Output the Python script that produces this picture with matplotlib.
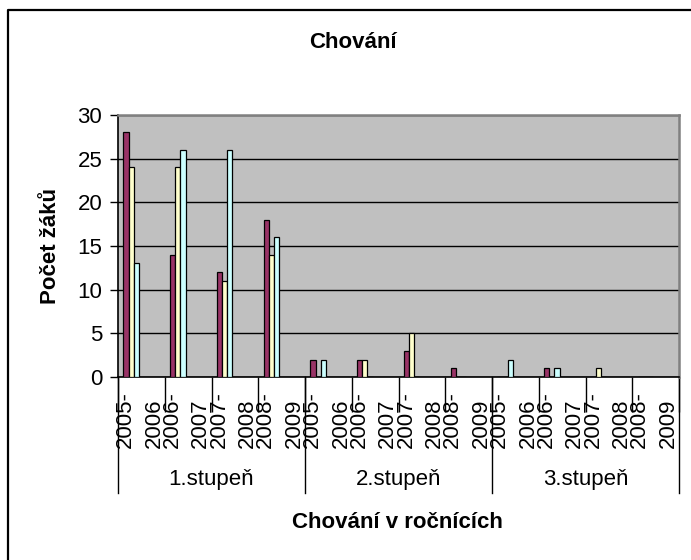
import matplotlib.pyplot as plt
from matplotlib.lines import Line2D
import numpy as np

plt.rcParams['font.family'] = ['Liberation Sans', 'DejaVu Sans']

# data
years = ['2005-2006', '2006-2007', '2007-2008', '2008-2009']
groups = ['1.stupeň', '2.stupeň', '3.stupeň']
serie1 = [28, 14, 12, 18, 2, 2, 3, 1, 0, 1, 0, 0]
serie2 = [24, 24, 11, 14, 0, 2, 5, 0, 0, 0, 1, 0]
serie3 = [13, 26, 26, 16, 2, 0, 0, 0, 2, 1, 0, 0]
colors = ['#993366', '#FFFFCC', '#CCFFFF']

fig = plt.figure(figsize=(6.91, 5.60), dpi=100)
ax = fig.add_axes([118/691, 1-377/560, (679-118)/691, (377-115)/560])
ax.set_facecolor('#C0C0C0')

n = len(serie1)
x = np.arange(n)
w = 0.11
off = 0.115
for k, vals in enumerate([serie1, serie2, serie3]):
    ax.bar(x + off + k*w, vals, width=w, align='edge', color=colors[k],
           edgecolor='black', linewidth=0.9, zorder=3)

ax.set_xlim(0, n)
ax.set_ylim(0, 30)
ax.set_yticks(range(0, 31, 5))
ax.yaxis.grid(True, color='black', linewidth=1.0, zorder=1)
ax.set_axisbelow(True)
ax.tick_params(axis='y', labelsize=16, length=5.8, width=1.0, pad=5.5)

# category ticks (long), labels drawn by hand
ax.set_xticks(range(0, n + 1))
ax.set_xticklabels([])
ax.tick_params(axis='x', length=25, width=1.0, direction='out')

for s in ['left', 'bottom']:
    ax.spines[s].set_color('black')
    ax.spines[s].set_linewidth(1.2)
for s in ['top', 'right']:
    ax.spines[s].set_color('#808080')
    ax.spines[s].set_linewidth(1.8)

trans = ax.get_xaxis_transform()
labels = years * len(groups)
for i, lab in enumerate(labels):
    a, b = lab.split('-')
    ax.text(i + 0.16, -0.271, a + '-', rotation=90, rotation_mode='anchor',
            ha='left', va='center', fontsize=16, transform=trans)
    ax.text(i + 0.77, -0.271, b, rotation=90, rotation_mode='anchor',
            ha='left', va='center', fontsize=16, transform=trans)

# group separators and labels
for g in range(len(groups) + 1):
    ax.plot([g*4, g*4], [0, -0.443], color='black', lw=1.0,
            transform=trans, clip_on=False)
for g, name in enumerate(groups):
    ax.text(g*4 + 2, -0.393, name, ha='center', va='center', fontsize=16,
            transform=trans)

fig.text(353/691, 1-43/560, 'Chování', ha='center', va='center',
         fontsize=16, fontweight='bold')
fig.text(397/691, 1-522/560, 'Chování v ročnících', ha='center', va='center',
         fontsize=16, fontweight='bold')
fig.text(50/691, 1-246/560, 'Počet žáků', ha='center', va='center',
         rotation=90, fontsize=16, fontweight='bold')

# chart border (only left and top are inside the picture)
fig.lines.append(Line2D([8/691, 8/691, 1.0], [0.0, 1-10/560, 1-10/560],
                        transform=fig.transFigure, color='black', lw=1.6))

fig.savefig('out.png', dpi=100)
